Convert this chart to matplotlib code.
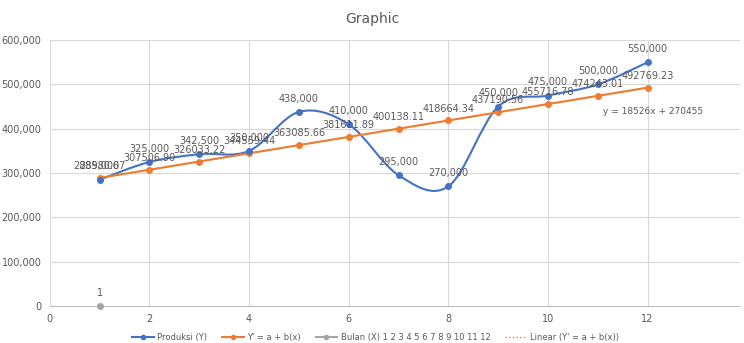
import numpy as np
import matplotlib
matplotlib.use("Agg")
import matplotlib.pyplot as plt
from matplotlib.path import Path
from matplotlib.patches import PathPatch
from matplotlib.lines import Line2D

months = [1, 2, 3, 4, 5, 6, 7, 8, 9, 10, 11, 12]
produksi = [285000, 325000, 342500, 350000, 438000, 410000, 295000, 270000, 450000, 475000, 500000, 550000]
trend = [288980.67, 307506.90, 326033.22, 344559.44, 363085.66, 381611.89, 400138.11, 418664.34,
         437190.56, 455716.78, 474243.01, 492769.23]
bulan_x = [1]
bulan_y = [0]
bulan_labels = ["1"]
equation = "y = 18526x + 270455"

BLUE = "#4472C4"
ORANGE = "#ED7D31"
GRAY = "#A5A5A5"
TXT = "#595959"

plt.rcParams['font.family'] = ['DejaVu Sans']

fig = plt.figure(figsize=(7.44, 3.43), dpi=100)
ax = fig.add_axes([0.067, 0.108, 0.928, 0.775])

# smooth (Catmull-Rom style Bezier) path for the blue series
x = np.array(months, float)
y = np.array(produksi, float)
verts = [(x[0], y[0])]
codes = [Path.MOVETO]
n = len(x)
for i in range(n - 1):
    p0 = np.array([x[max(i - 1, 0)], y[max(i - 1, 0)]])
    p1 = np.array([x[i], y[i]])
    p2 = np.array([x[i + 1], y[i + 1]])
    p3 = np.array([x[min(i + 2, n - 1)], y[min(i + 2, n - 1)]])
    c1 = p1 + (p2 - p0) / 6.0
    c2 = p2 - (p3 - p1) / 6.0
    verts += [tuple(c1), tuple(c2), tuple(p2)]
    codes += [Path.CURVE4] * 3
ax.add_patch(PathPatch(Path(verts, codes), facecolor='none', edgecolor=BLUE, lw=1.5, zorder=3))
ax.plot(months, produksi, 'o', color=BLUE, ms=4, zorder=4)

ax.plot(months, trend, '-o', color=ORANGE, lw=1.5, ms=4, zorder=3)
ax.plot(months, trend, ':', color=ORANGE, lw=1, zorder=3)
ax.plot(bulan_x, bulan_y, '-o', color=GRAY, ms=4, zorder=4, clip_on=False)

for xi, yi in zip(months, produksi):
    ax.annotate(f"{yi:,.0f}", (xi, yi), xytext=(0, 6), textcoords='offset points',
                ha='center', va='bottom', fontsize=7, color=TXT, zorder=5)
for xi, yi in zip(months, trend):
    ax.annotate(f"{yi:.2f}", (xi, yi), xytext=(0, 5), textcoords='offset points',
                ha='center', va='bottom', fontsize=7, color=TXT, zorder=5)
for xi, yi, lb in zip(bulan_x, bulan_y, bulan_labels):
    ax.annotate(lb, (xi, yi), xytext=(0, 6), textcoords='offset points',
                ha='center', va='bottom', fontsize=7, color=TXT, zorder=5)

ax.text(12.1, 440000, equation, ha='center', va='center', fontsize=6.5, color=TXT)

ax.set_xlim(0, 13.86)
ax.set_ylim(0, 600000)
ax.set_xticks([0, 2, 4, 6, 8, 10, 12])
ax.set_yticks(np.arange(0, 600001, 100000))
ax.yaxis.set_major_formatter(matplotlib.ticker.FuncFormatter(lambda v, p: f"{v:,.0f}"))
ax.tick_params(axis='both', length=0, labelsize=7, colors=TXT, pad=6)
ax.grid(True, color='#D9D9D9', lw=0.8)
ax.set_axisbelow(True)
for s in ['top', 'right', 'left']:
    ax.spines[s].set_visible(False)
ax.spines['bottom'].set_color('#BFBFBF')

fig.text(0.5, 0.945, "Graphic", ha='center', va='center', fontsize=10, color=TXT)

handles = [
    Line2D([], [], color=BLUE, marker='o', ms=3, lw=1.5),
    Line2D([], [], color=ORANGE, marker='o', ms=3, lw=1.5),
    Line2D([], [], color=GRAY, marker='o', ms=3, lw=1.5),
    Line2D([], [], color=ORANGE, ls=':', lw=1),
]
labels = ["Produksi (Y)", "Y' = a + b(x)", "Bulan (X) 1 2 3 4 5 6 7 8 9 10 11 12", "Linear (Y' = a + b(x))"]
fig.legend(handles, labels, loc='center', bbox_to_anchor=(0.505, 0.015), ncol=4, frameon=False,
           fontsize=6, labelcolor=TXT, handlelength=2.6, handletextpad=0.4, columnspacing=1.8)

fig.savefig("out.png", dpi=100)
